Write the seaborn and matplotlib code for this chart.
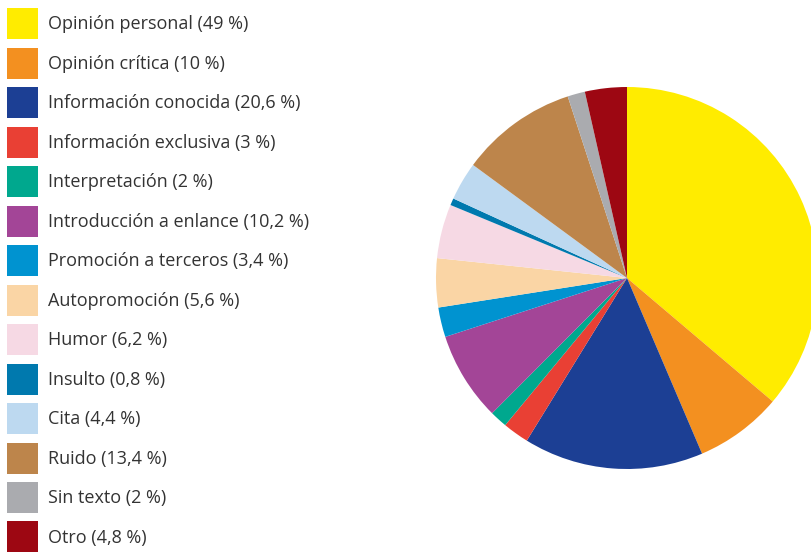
import matplotlib
matplotlib.use("Agg")
import matplotlib.pyplot as plt
import seaborn as sns

sns.set_theme(style="white")
plt.rcParams["font.family"] = ["Open Sans", "DejaVu Sans"]

# categories and their shares (as printed in the legend)
categories = ["Opinión personal", "Opinión crítica", "Información conocida",
              "Información exclusiva", "Interpretación", "Introducción a enlance",
              "Promoción a terceros", "Autopromoción", "Humor", "Insulto",
              "Cita", "Ruido", "Sin texto", "Otro"]
values = [49, 10, 20.6, 3, 2, 10.2, 3.4, 5.6, 6.2, 0.8, 4.4, 13.4, 2, 4.8]
value_labels = ["49", "10", "20,6", "3", "2", "10,2", "3,4", "5,6", "6,2", "0,8",
                "4,4", "13,4", "2", "4,8"]
colors = ["#FFEC00", "#F39020", "#1C3F94", "#E94034", "#00A88E", "#A34597",
          "#0093D0", "#FAD5A5", "#F6D9E4", "#0079AE", "#BDD9F0", "#BD854B",
          "#AAABAF", "#9D0712"]

W, H = 811, 552
fig = plt.figure(figsize=(W / 100, H / 100), dpi=100)

# pie: centre (627, 278) px, radius 191 px, partly cut by the right edge
cx, cy, r = 627, 278, 191
ax = fig.add_axes([(cx - r) / W, (H - cy - r) / H, 2 * r / W, 2 * r / H])
wedges, _ = ax.pie(values, colors=colors, startangle=90, counterclock=False,
                   wedgeprops={"linewidth": 0})
ax.set_xlim(-1, 1)
ax.set_ylim(-1, 1)
ax.set_aspect("equal")
ax.axis("off")

labels = [f"{c} ({v} %)" for c, v in zip(categories, value_labels)]
fs = 13
px = fs * 100 / 72
sq = 31  # legend square size in px
hh = (sq / px - 0.245) / 0.65  # matplotlib trims 0.35*(hh-0.7) off the handle box
fig.legend(wedges, labels, loc="upper left", bbox_to_anchor=(7 / W, 1 - 8 / H),
           frameon=False, fontsize=fs, borderpad=0, borderaxespad=0,
           handlelength=sq / px, handleheight=hh, labelspacing=8.5 / px,
           handletextpad=10 / px, labelcolor="#333333")

fig.savefig("out.png", dpi=100)
